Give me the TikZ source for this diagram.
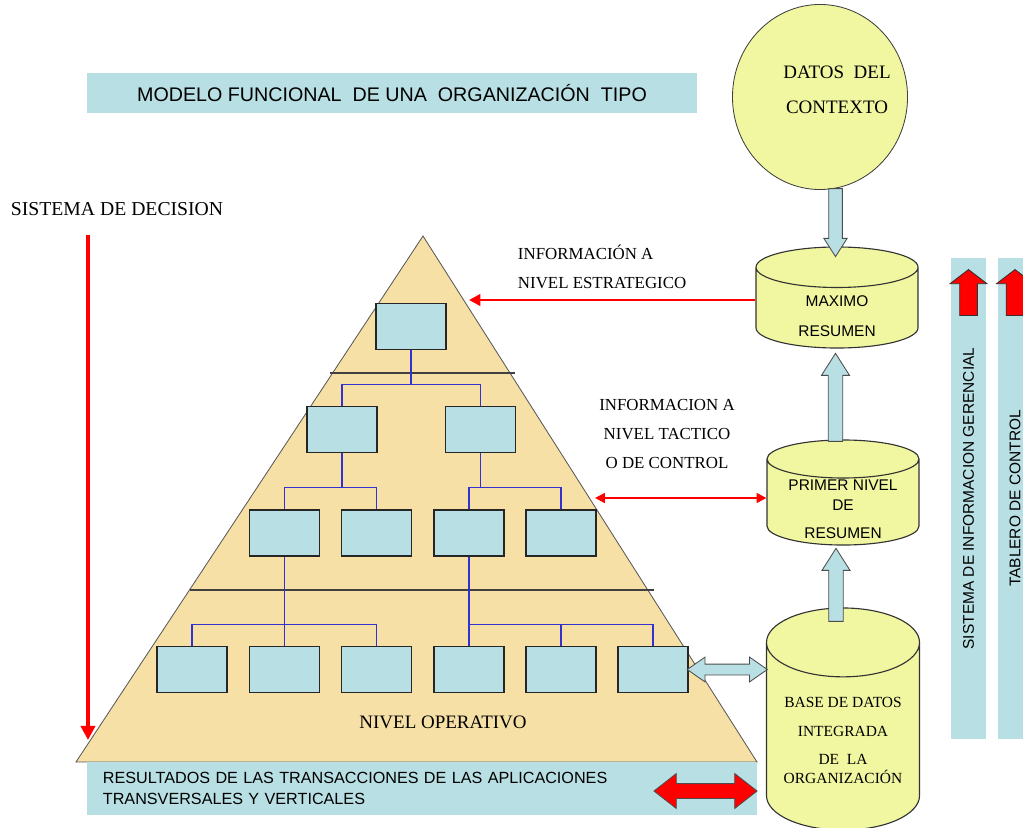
\documentclass[tikz,border=0pt]{standalone}
\usepackage{fontspec}
\setmainfont{Liberation Serif}
\setsansfont{Liberation Sans}
\usepackage{tikz}
\usetikzlibrary{positioning,shapes.geometric,shapes.arrows,arrows.meta,calc}
\definecolor{boxblue}{RGB}{184,223,227}
\definecolor{pyrtan}{RGB}{246,224,166}
\definecolor{dbyellow}{RGB}{241,246,160}
\definecolor{linkblue}{RGB}{50,50,210}

\begin{document}
\begin{tikzpicture}[x=0.025cm, y=-0.025cm,
        orgbox/.style={rectangle, draw=black!85, line width=0.9pt, fill=boxblue, minimum width=1.75cm, minimum height=1.15cm, inner sep=0pt},
        link/.style={draw=linkblue, line width=0.9pt},
        divider/.style={draw=black!75, line width=1pt},
        db/.style={cylinder, shape border rotate=90, draw=black!80, line width=0.8pt, fill=dbyellow, inner ysep=0pt, anchor=shape center},
        dbtext/.style={align=center, font=\sffamily\fontsize{11}{14}\selectfont},
        flowup/.style={single arrow, draw=black!70, fill=boxblue, line width=0.6pt, inner sep=0.17cm, single arrow head extend=0.17cm, single arrow tip angle=65},
        flowred/.style={single arrow, draw=black!80, fill=red, line width=0.6pt, minimum height=1.15cm, inner sep=0.21cm, single arrow head extend=0.24cm, single arrow tip angle=105},
        redlink/.style={draw=red, line width=1.6pt},
        band/.style={rectangle, fill=boxblue, inner sep=0pt},
        serif/.style={font=\fontsize{12}{20.6}\selectfont, align=center}
    ]
        \useasboundingbox (0,0) rectangle (1023,827);

        % Title
        \node[band, minimum width=15.25cm, minimum height=1cm, font=\sffamily\fontsize{14}{16}\selectfont] (title) at (392,93) {MODELO FUNCIONAL~ DE UNA~ ORGANIZACIÓN~ TIPO};

        % Pyramid
        \coordinate (apex) at (423,236);
        \fill[pyrtan, draw=black!65, line width=0.6pt] (apex) -- (757,762) -- (76,762) -- cycle;
        \draw[divider] (330,373) -- (515,373);
        \draw[divider] (190,590) -- (654,590);

        % Level 1
        \node[orgbox] (l1) at (411,326.5) {};
        % Level 2
        \node[orgbox] (l2a) at (342,429.5) {};
        \node[orgbox] (l2b) at (480.5,429.5) {};
        % Level 3
        \node[orgbox] (l3a) at (284.5,533) {};
        \node[orgbox] (l3b) at (376.5,533) {};
        \node[orgbox] (l3c) at (469,533) {};
        \node[orgbox] (l3d) at (561,533) {};
        % Level 4
        \node[orgbox] (l4a) at (192,669.5) {};
        \node[orgbox] (l4b) at (284.5,669.5) {};
        \node[orgbox] (l4c) at (376.5,669.5) {};
        \node[orgbox] (l4d) at (469,669.5) {};
        \node[orgbox] (l4e) at (561,669.5) {};
        \node[orgbox] (l4f) at (653,669.5) {};

        \draw[link] (l1.south) -- ++(0,34) -| (l2a.north);
        \draw[link] (l1.south) -- ++(0,34) -| (l2b.north);
        \draw[link] (l2a.south) -- ++(0,34) -| (l3a.north);
        \draw[link] (l2a.south) -- ++(0,34) -| (l3b.north);
        \draw[link] (l2b.south) -- ++(0,34) -| (l3c.north);
        \draw[link] (l2b.south) -- ++(0,34) -| (l3d.north);
        \draw[link] (l3a.south) -- (l4b.north);
        \draw[link] (l3a.south) -- ++(0,68) -| (l4a.north);
        \draw[link] (l3a.south) -- ++(0,68) -| (l4c.north);
        \draw[link] (l3c.south) -- (l4d.north);
        \draw[link] (l3c.south) -- ++(0,68) -| (l4e.north);
        \draw[link] (l3c.south) -- ++(0,68) -| (l4f.north);

        \node[font=\fontsize{13.5}{16}\selectfont] (oplabel) at (443,722) {NIVEL OPERATIVO};

        % Results band
        \node[band, minimum width=16.75cm, minimum height=1.325cm, text width=15.95cm, align=left, font=\sffamily\fontsize{11.5}{15}\selectfont] (results) at (422,788.5) {RESULTADOS DE LAS TRANSACCIONES DE LAS APLICACIONES\\TRANSVERSALES Y VERTICALES};

        % Decision system
        \node[anchor=west, font=\fontsize{14}{16}\selectfont] (decision) at (6,209) {SISTEMA DE DECISION};
        \coordinate (dectop) at (88,235);
        \coordinate (decbot) at (88,740);
        \draw[redlink, line width=2.6pt, -{Triangle[length=10pt,width=10pt]}] (dectop) -- (decbot);

        % Context and databases
        \node[ellipse, draw=black!75, line width=0.6pt, fill=dbyellow, minimum width=4.375cm, minimum height=4.625cm] (ctx) at (820,97) {};
        \node[align=center, font=\fontsize{13.5}{25}\selectfont] (ctxtext) at (837,90) {DATOS~ DEL\\CONTEXTO};
        \node[db, inner xsep=2.025cm, minimum height=2.525cm, aspect=0.25] (maxres) at (837,297.5) {};
        \node[dbtext] (maxtext) at (837,316) {MAXIMO\\[7pt]RESUMEN};
        \node[db, inner xsep=1.9cm, minimum height=2.625cm, aspect=0.25] (prim) at (843,492.5) {};
        \node[dbtext] (primtext) at (843,509) {PRIMER NIVEL\\DE\\[6pt]RESUMEN};
        \node[db, inner xsep=1.9125cm, minimum height=5.55cm, aspect=0.45] (base) at (843,719) {};
        \node[dbtext, font=\fontsize{11}{13}\selectfont] (basetext) at (843,740) {BASE DE DATOS\\[8pt]INTEGRADA\\[7pt]DE~ LA\\ORGANIZACIÓN};

        \node[flowup, shape border rotate=270, minimum height=1.7cm, inner sep=0.16cm, single arrow head extend=0.12cm, anchor=tip] (ctxflow) at ($(maxres.north)+(-1.5,11)$) {};
        \node[flowup, shape border rotate=90, minimum height=2.2cm, anchor=tip] (primflow) at ($(maxres.south)+(-1.5,4)$) {};
        \node[flowup, shape border rotate=90, minimum height=1.825cm, anchor=tip] (baseflow) at ($(prim.south)+(-7,2)$) {};

        % Information flows
        \node[serif, anchor=west, align=left] (estrlabel) at (513,266.5) {INFORMACIÓN A\\NIVEL ESTRATEGICO};
        \coordinate (estr) at (469,300);
        \draw[redlink, line width=2pt, -{Triangle[length=8pt,width=8pt]}] (maxres.west |- estr) -- (estr);
        \node[serif] (taclabel) at (667,434) {INFORMACION A\\NIVEL TACTICO\\O DE CONTROL};
        \coordinate (tac) at (595,498);
        \draw[redlink, line width=1.4pt, {Triangle[length=7pt,width=7pt]}-{Triangle[length=7pt,width=7pt]}] (tac) -- (tac -| prim.west);

        \node[double arrow, draw=black!70, fill=boxblue, line width=0.6pt, minimum height=2cm, inner sep=0.125cm, double arrow head extend=0.175cm, double arrow tip angle=70] (opflow) at ($(l4f.east)!0.5!(l4f.east -| base.west)$) {};
        \node[double arrow, draw=black!70, fill=red, line width=0.6pt, minimum height=2.575cm, inner sep=0.175cm, double arrow head extend=0.25cm, double arrow tip angle=76] (resflow) at (705.5,791) {};

        % Management bands
        \node[band, rotate=90, minimum width=12.025cm, minimum height=0.875cm, font=\sffamily\fontsize{11}{13}\selectfont] (sig) at (968.5,498.5) {SISTEMA DE INFORMACION GERENCIAL};
        \node[band, rotate=90, minimum width=12.025cm, minimum height=0.875cm, font=\sffamily\fontsize{11}{13}\selectfont] (tab) at (1015,498.5) {TABLERO DE CONTROL};
        \node[flowred, shape border rotate=90, anchor=tip] (sigup) at (968.5,269) {};
        \node[flowred, shape border rotate=90, anchor=tip] (tabup) at (1015,269) {};
    \end{tikzpicture}
\end{document}
